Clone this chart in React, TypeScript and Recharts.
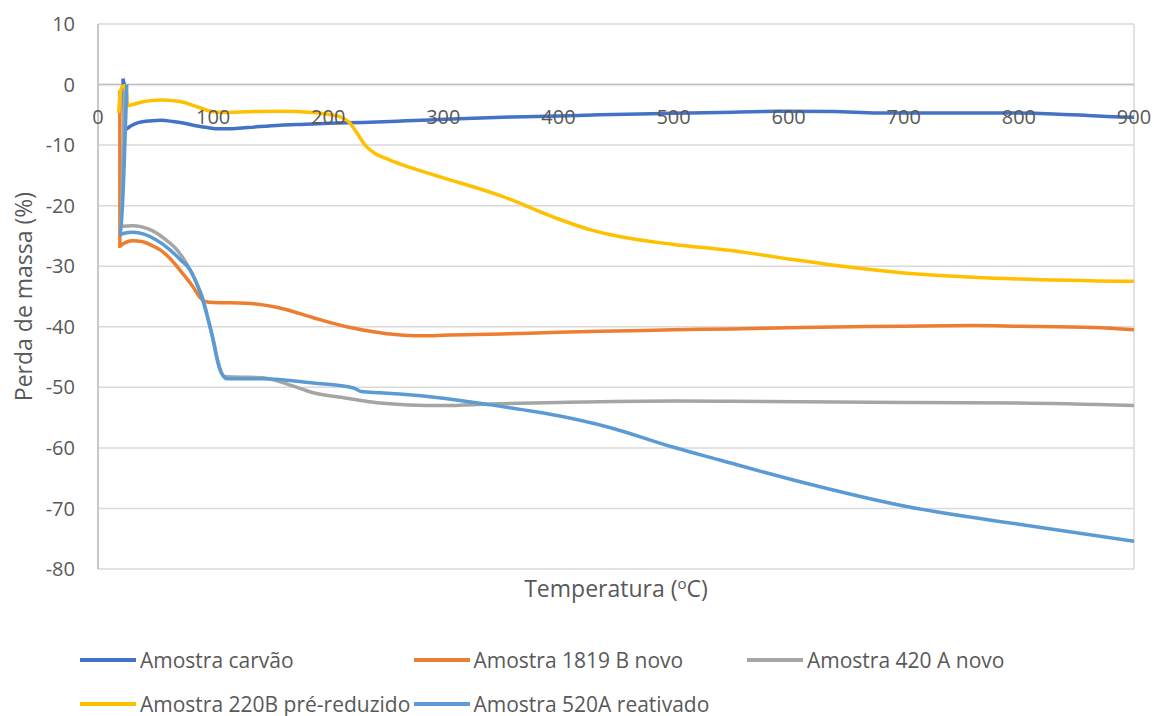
import { LineChart, Line, XAxis, YAxis, CartesianGrid, ReferenceLine, ReferenceDot, Label } from 'recharts';

const temperatureTicks = [0, 100, 200, 300, 400, 500, 600, 700, 800, 900];
const massTicks = [-80, -70, -60, -50, -40, -30, -20, -10, 0, 10];

// Amostra carvão
const tempCarvao = [23, 21.7, 22, 22.5, 24, 28, 35, 45, 55, 65, 75, 85, 95, 105, 115, 130, 158, 180, 201, 230, 260, 288, 320, 360, 400, 436, 470, 497, 540, 592, 639, 677, 720, 786, 830, 860, 882, 900];
const massaCarvao = [0, 1.0, -2, -6.5, -7.4, -6.9, -6.3, -6.0, -5.9, -6.1, -6.4, -6.8, -7.1, -7.3, -7.3, -7.1, -6.7, -6.55, -6.4, -6.25, -6.05, -5.85, -5.6, -5.35, -5.2, -5.0, -4.85, -4.75, -4.6, -4.42, -4.45, -4.7, -4.7, -4.7, -4.85, -5.1, -5.3, -5.4];

// Amostra 1819 B novo
const temp1819B = [19, 19, 21, 25, 30, 38, 45, 54, 63, 71, 77, 82.5, 88, 93, 100, 129, 158, 187, 216, 245, 265, 285, 300, 350, 400, 450, 500, 550, 610, 700, 760, 800, 865, 900];
const massa1819B = [-1, -26.7, -26.4, -26.0, -25.8, -25.9, -26.4, -27.3, -28.8, -30.6, -32.0, -33.4, -35.0, -35.8, -36.0, -36.1, -36.9, -38.5, -40.0, -41.0, -41.4, -41.5, -41.4, -41.2, -40.9, -40.7, -40.5, -40.35, -40.1, -39.9, -39.8, -39.9, -40.1, -40.5];

// Amostra 420 A novo
const temp420A = [23, 19, 22, 30, 38, 48, 58, 68.6, 78, 85, 91, 96, 100, 104, 107, 110, 120, 143, 165, 187, 216, 245, 270, 300, 341, 400, 500, 550, 610, 700, 800, 900];
const massa420A = [0, -23.5, -23.4, -23.3, -23.5, -24.2, -25.5, -27.3, -29.9, -32.5, -35.3, -39.0, -42.0, -45.5, -47.5, -48.2, -48.3, -48.4, -49.5, -50.9, -51.8, -52.6, -52.9, -53.0, -52.75, -52.5, -52.25, -52.3, -52.4, -52.5, -52.6, -53.0];

// Amostra 220B pré-reduzido
const temp220B = [18, 19, 21, 23, 25, 26, 30, 40, 55, 71, 85, 100, 110, 130, 158, 187, 200, 210, 218, 225, 232, 240, 250, 265, 288, 300, 349, 400, 428, 453, 500, 550, 600, 650, 700, 800, 900];
const massa220B = [-4.7, -2, -0.3, -0.2, -1.5, -3.5, -3.3, -2.8, -2.55, -2.8, -3.6, -4.5, -4.6, -4.5, -4.4, -4.6, -4.9, -5.3, -6.2, -8.0, -10.0, -11.3, -12.2, -13.3, -14.7, -15.4, -18.3, -22.2, -24.0, -25.1, -26.4, -27.4, -28.8, -30.1, -31.1, -32.1, -32.5];

// Amostra 520A reativado
const temp520A = [25, 19, 22, 30, 40, 50, 62.5, 72, 80, 86, 91, 96, 100, 103, 106, 109, 112, 143, 187, 222, 229, 245, 262, 300, 341, 400, 442, 500, 540, 610, 700, 800, 900];
const massa520A = [0, -24.9, -24.6, -24.4, -24.7, -25.6, -27.3, -29.0, -30.6, -33.0, -35.6, -39.0, -42.2, -45.0, -47.1, -48.2, -48.6, -48.6, -49.3, -50.1, -50.7, -50.9, -51.1, -51.8, -52.9, -54.7, -56.5, -59.9, -62.0, -65.6, -69.6, -72.6, -75.4];

const toPoints = (temps: number[], massas: number[]) => temps.map((t, i) => ({ t, m: massas[i] }));

const series = [
  { name: 'Amostra carvão', color: '#4472C4', data: toPoints(tempCarvao, massaCarvao) },
  { name: 'Amostra 1819 B novo', color: '#ED7D31', data: toPoints(temp1819B, massa1819B) },
  { name: 'Amostra 420 A novo', color: '#A5A5A5', data: toPoints(temp420A, massa420A) },
  { name: 'Amostra 220B pré-reduzido', color: '#FFC000', data: toPoints(temp220B, massa220B) },
  { name: 'Amostra 520A reativado', color: '#5B9BD5', data: toPoints(temp520A, massa520A) },
];

const FONT = '"Open Sans", sans-serif';
const TEXT = '#595959';

const YTitle = (props: any) => {
  const vb = props.viewBox;
  const cy = vb.y + vb.height / 2;
  return (
    <text x={32} y={cy} transform={`rotate(-90, 32, ${cy})`} textAnchor="middle" fill={TEXT} fontSize={23} fontFamily={FONT}>
      Perda de massa (%)
    </text>
  );
};

const XTitle = (props: any) => {
  const vb = props.viewBox;
  const cx = vb.x + vb.width / 2;
  return (
    <text x={cx} y={vb.y + 28} textAnchor="middle" fill={TEXT} fontSize={23} fontFamily={FONT}>
      Temperatura (<tspan dy={-8} fontSize={15}>o</tspan><tspan dy={8}>C)</tspan>
    </text>
  );
};

const LegendRows = () => (
  <div style={{ position: 'absolute', left: 0, top: 0, width: 1154, height: 716, pointerEvents: 'none' }}>
    {series.map((s, i) => {
      const col = i < 3 ? i : i - 3;
      const row = i < 3 ? 0 : 1;
      return (
        <div
          key={s.name}
          style={{
            position: 'absolute',
            left: 80 + col * 333.5,
            top: 660 + row * 44 - 15,
            height: 30,
            display: 'flex',
            alignItems: 'center',
            whiteSpace: 'nowrap',
            fontFamily: FONT,
            fontSize: 21,
            color: TEXT,
          }}
        >
          <span style={{ display: 'inline-block', width: 56, height: 4, background: s.color, marginRight: 4 }} />
          <span>{s.name}</span>
        </div>
      );
    })}
  </div>
);

export default function App() {
  return (
    <div style={{ position: 'absolute', left: 0, top: 0, width: 1154, height: 716, background: '#fff' }}>
      <LineChart width={1154} height={716} margin={{ top: 24, right: 20, left: 0, bottom: 107 }}>
        <CartesianGrid stroke="#d9d9d9" strokeWidth={1.5} />
        <XAxis
          dataKey="t"
          type="number"
          domain={[0, 900]}
          ticks={temperatureTicks}
          allowDataOverflow
          tick={false}
          tickLine={false}
          axisLine={false}
          height={40}
        >
          <Label content={XTitle} />
        </XAxis>
        <YAxis
          type="number"
          domain={[-80, 10]}
          ticks={massTicks}
          allowDataOverflow
          width={98}
          tickLine={false}
          tickMargin={17}
          axisLine={{ stroke: '#bfbfbf', strokeWidth: 1.5 }}
          tick={{ fill: TEXT, fontSize: 20, fontFamily: FONT }}
        >
          <Label content={YTitle} />
        </YAxis>
        <ReferenceLine y={0} stroke="#bfbfbf" strokeWidth={1.5} />
        {temperatureTicks.map((t) => (
          <ReferenceDot
            key={t}
            x={t}
            y={0}
            r={0}
            fill="none"
            stroke="none"
            ifOverflow="visible"
            label={{ value: String(t), position: 'bottom', offset: 25, fill: TEXT, fontSize: 20, fontFamily: FONT }}
          />
        ))}
        {series.map((s) => (
          <Line
            key={s.name}
            data={s.data}
            dataKey="m"
            name={s.name}
            type="monotone"
            stroke={s.color}
            strokeWidth={3.5}
            dot={false}
            activeDot={false}
            isAnimationActive={false}
          />
        ))}
      </LineChart>
      <LegendRows />
    </div>
  );
}
